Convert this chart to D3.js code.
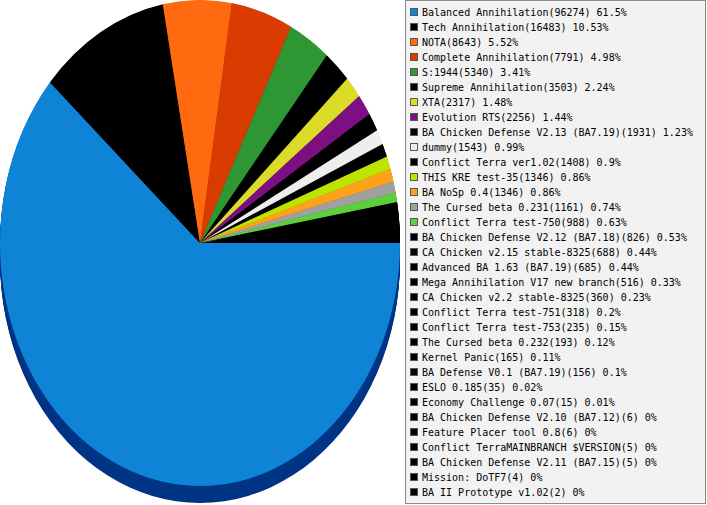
<!DOCTYPE html>
<html>
<head>
    <meta charset="utf-8">
    <script src="https://cdnjs.cloudflare.com/ajax/libs/d3/7.8.5/d3.min.js"></script>
    <style>
        body { margin: 0; background: #fff; }
        .legend text { font-family: "DejaVu Sans Mono", monospace; font-size: 10px; fill: #000; }
    </style>
</head>
<body>
<script>

    const width = 707;
    const height = 505;

    // mods and how many games were played with them
    const names = [
        "Balanced Annihilation", "Tech Annihilation", "NOTA", "Complete Annihilation",
        "S:1944", "Supreme Annihilation", "XTA", "Evolution RTS",
        "BA Chicken Defense V2.13 (BA7.19)", "dummy", "Conflict Terra ver1.02",
        "THIS KRE test-35", "BA NoSp 0.4", "The Cursed beta 0.231",
        "Conflict Terra test-750", "BA Chicken Defense V2.12 (BA7.18)",
        "CA Chicken v2.15 stable-8325", "Advanced BA 1.63 (BA7.19)",
        "Mega Annihilation V17 new branch", "CA Chicken v2.2 stable-8325",
        "Conflict Terra test-751", "Conflict Terra test-753", "The Cursed beta 0.232",
        "Kernel Panic", "BA Defense V0.1 (BA7.19)", "ESLO 0.185",
        "Economy Challenge 0.07", "BA Chicken Defense V2.10 (BA7.12)",
        "Feature Placer tool 0.8", "Conflict TerraMAINBRANCH $VERSION",
        "BA Chicken Defense V2.11 (BA7.15)", "Mission: DoTF7", "BA II Prototype v1.02"
    ];
    const games = [
        96274, 16483, 8643, 7791, 5340, 3503, 2317, 2256, 1931, 1543, 1408,
        1346, 1346, 1161, 988, 826, 688, 685, 516, 360, 318, 235, 193,
        165, 156, 35, 15, 6, 6, 5, 5, 4, 2
    ];
    const colors = [
        "#0f84d6", "#000000", "#ff6a10", "#d93b00", "#2e9632", "#000000",
        "#dcdc28", "#7c0f82", "#000000", "#eeeeee", "#000000", "#bde300",
        "#ffa21a", "#a0a0a0", "#5ccf3a"
    ];
    const otherColor = "#000000";

    const total = d3.sum(games);
    const color = i => i < colors.length ? colors[i] : otherColor;
    const pct = v => +(v / total * 100).toFixed(2) + "%";

    const svg = d3.select("body").append("svg")
        .attr("width", width).attr("height", height);

    // pie squashed into an ellipse, with a little depth underneath
    const cx = 200, cy = 243, rx = 200, ry = 243, depth = 17;

    const pie = d3.pie().sort(null)
        .startAngle(Math.PI / 2).endAngle(Math.PI / 2 + 2 * Math.PI);
    const arcs = pie(games);
    const arc = d3.arc().innerRadius(0).outerRadius(rx);

    const sideColor = i => i === 0 ? "#003585" : d3.rgb(color(i)).darker(1.2);

    d3.range(depth, 0, -1).forEach(off => {
        svg.append("g")
            .attr("transform", `translate(${cx},${cy + off}) scale(1,${ry / rx})`)
            .selectAll("path")
            .data(arcs)
            .join("path")
            .attr("d", arc)
            .style("fill", (d, i) => sideColor(i));
    });

    svg.append("g")
        .attr("class", "slices")
        .attr("transform", `translate(${cx},${cy}) scale(1,${ry / rx})`)
        .selectAll("path")
        .data(arcs)
        .join("path")
        .attr("d", arc)
        .style("fill", (d, i) => color(i));

    // legend box
    const legend = svg.append("g").attr("class", "legend");

    legend.append("rect")
        .attr("x", 405.5).attr("y", 0.5)
        .attr("width", 300).attr("height", 503)
        .style("fill", "#f2f2f2")
        .style("stroke", "#8c8c8c");

    const rowY = d3.scaleLinear().domain([0, 1]).range([12, 27]);

    const rows = legend.selectAll("g.row")
        .data(names)
        .join("g")
        .attr("class", "row")
        .attr("transform", (d, i) => `translate(0,${rowY(i)})`);

    rows.append("rect")
        .attr("x", 410.5).attr("y", -3.5)
        .attr("width", 7).attr("height", 7)
        .style("fill", (d, i) => color(i))
        .style("stroke", "#555")
        .style("stroke-width", 1);

    rows.append("text")
        .attr("x", 422)
        .attr("y", 4)
        .text((d, i) => `${d}(${games[i]}) ${pct(games[i])}`);

</script>
</body>
</html>
